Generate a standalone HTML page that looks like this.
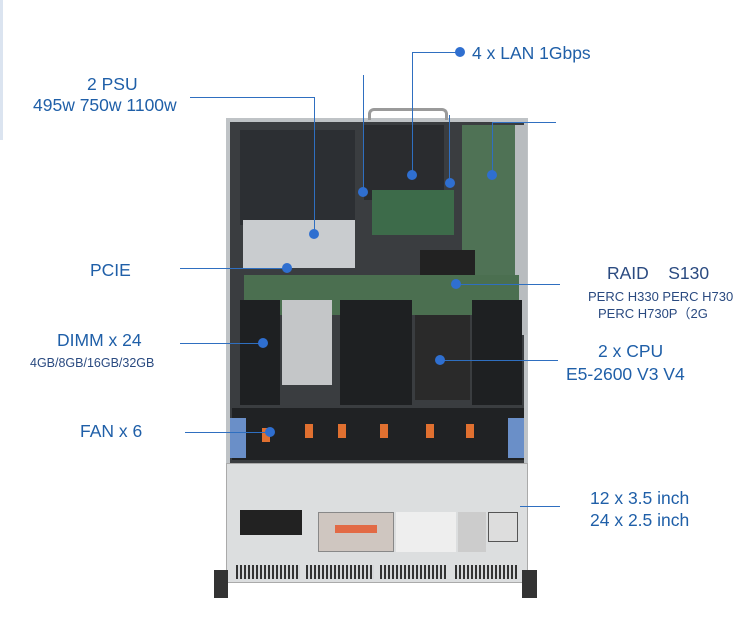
<!DOCTYPE html>
<html><head><meta charset="utf-8"><style>
*{margin:0;padding:0;box-sizing:border-box}
body{width:750px;height:622px;background:#fff;position:relative;overflow:hidden;font-family:"Liberation Sans","Noto Sans CJK SC",sans-serif}
.a{position:absolute}
.t{position:absolute;color:#1f5fa8;font-size:17.5px;white-space:nowrap;line-height:1}
.s{position:absolute;color:#2a4a80;font-size:13px;white-space:nowrap;line-height:1}
.l{position:absolute;background:#2f6fc0}
.d{position:absolute;width:10px;height:10px;border-radius:50%;background:#2f6fd0}
.v{position:absolute;top:565px;height:14px;background:repeating-linear-gradient(90deg,#333 0 2px,#d6d8da 2px 4px)}
</style></head><body>
<div class="a" style="left:0;top:0;width:3px;height:140px;background:#dbe4f0"></div>

<div class="a" style="left:226px;top:118px;width:302px;height:350px;background:#3a3d40;border:4px solid #bfc3c6"></div>
<div class="a" style="left:240px;top:130px;width:115px;height:95px;background:#2c2f33"></div>
<div class="a" style="left:243px;top:220px;width:112px;height:48px;background:#c9cccf"></div>
<div class="a" style="left:364px;top:125px;width:80px;height:75px;background:#2a2c2f"></div>
<div class="a" style="left:368px;top:108px;width:80px;height:12px;border:3px solid #9a9a9a;border-bottom:none;border-radius:6px 6px 0 0"></div>
<div class="a" style="left:372px;top:190px;width:82px;height:45px;background:#3d6b4a"></div>
<div class="a" style="left:462px;top:125px;width:55px;height:150px;background:#4f7255"></div>
<div class="a" style="left:515px;top:125px;width:12px;height:210px;background:#b8bcbf"></div>
<div class="a" style="left:420px;top:250px;width:55px;height:55px;background:#222"></div>
<div class="a" style="left:244px;top:275px;width:275px;height:40px;background:#4b6f50"></div>
<div class="a" style="left:240px;top:300px;width:40px;height:105px;background:#1e2022"></div>
<div class="a" style="left:282px;top:300px;width:50px;height:85px;background:#c4c6c8"></div>
<div class="a" style="left:340px;top:300px;width:72px;height:105px;background:#1e2022"></div>
<div class="a" style="left:415px;top:315px;width:55px;height:85px;background:#2a2a2a"></div>
<div class="a" style="left:472px;top:300px;width:50px;height:105px;background:#1e2022"></div>
<div class="a" style="left:232px;top:408px;width:292px;height:52px;background:#202224"></div>
<div class="a" style="left:230px;top:418px;width:16px;height:40px;background:#6a8fc8"></div>
<div class="a" style="left:508px;top:418px;width:16px;height:40px;background:#6a8fc8"></div>
<div class="a" style="left:262px;top:428px;width:8px;height:14px;background:#e07030"></div>
<div class="a" style="left:305px;top:424px;width:8px;height:14px;background:#e07030"></div>
<div class="a" style="left:338px;top:424px;width:8px;height:14px;background:#e07030"></div>
<div class="a" style="left:380px;top:424px;width:8px;height:14px;background:#e07030"></div>
<div class="a" style="left:426px;top:424px;width:8px;height:14px;background:#e07030"></div>
<div class="a" style="left:466px;top:424px;width:8px;height:14px;background:#e07030"></div>
<div class="a" style="left:226px;top:463px;width:302px;height:120px;background:#dcdedf;border:1px solid #aaa"></div>
<div class="a" style="left:240px;top:510px;width:62px;height:25px;background:#222"></div>
<div class="a" style="left:318px;top:512px;width:76px;height:40px;background:#cfc6c0;border:1px solid #888"></div>
<div class="a" style="left:335px;top:525px;width:42px;height:8px;background:#e26a45"></div>
<div class="a" style="left:396px;top:512px;width:60px;height:40px;background:#eee"></div>
<div class="a" style="left:458px;top:512px;width:28px;height:40px;background:#ccc"></div>
<div class="a" style="left:488px;top:512px;width:30px;height:30px;background:#ddd;border:1px solid #555"></div>
<div class="v" style="left:236px;width:64px"></div>
<div class="v" style="left:306px;width:68px"></div>
<div class="v" style="left:380px;width:66px"></div>
<div class="v" style="left:455px;width:62px"></div>
<div class="a" style="left:214px;top:570px;width:14px;height:28px;background:#333"></div>
<div class="a" style="left:522px;top:570px;width:15px;height:28px;background:#333"></div>

<div class="l" style="left:190px;top:97px;width:125px;height:1px"></div>
<div class="l" style="left:314px;top:97px;width:1px;height:137px"></div><div class="d" style="left:309px;top:229px"></div>
<div class="l" style="left:363px;top:75px;width:1px;height:118px"></div><div class="d" style="left:358px;top:187px"></div>
<div class="l" style="left:412px;top:52px;width:48px;height:1px"></div><div class="d" style="left:455px;top:47px"></div>
<div class="l" style="left:412px;top:52px;width:1px;height:124px"></div><div class="d" style="left:407px;top:170px"></div>
<div class="l" style="left:449px;top:115px;width:1px;height:68px"></div><div class="d" style="left:445px;top:178px"></div>
<div class="l" style="left:492px;top:122px;width:64px;height:1px"></div>
<div class="l" style="left:492px;top:122px;width:1px;height:53px"></div><div class="d" style="left:487px;top:170px"></div>
<div class="l" style="left:180px;top:268px;width:107px;height:1px"></div><div class="d" style="left:282px;top:263px"></div>
<div class="l" style="left:456px;top:284px;width:104px;height:1px"></div><div class="d" style="left:451px;top:279px"></div>
<div class="l" style="left:180px;top:343px;width:83px;height:1px"></div><div class="d" style="left:258px;top:338px"></div>
<div class="l" style="left:440px;top:360px;width:118px;height:1px"></div><div class="d" style="left:435px;top:355px"></div>
<div class="l" style="left:185px;top:432px;width:85px;height:1px"></div><div class="d" style="left:265px;top:427px"></div>
<div class="l" style="left:520px;top:506px;width:40px;height:1px"></div>

<div class="t" style="left:87px;top:76px">2 PSU</div>
<div class="t" style="left:33px;top:97px">495w 750w 1100w</div>
<div class="t" style="left:472px;top:45px">4 x LAN 1Gbps</div>
<div class="t" style="left:90px;top:262px">PCIE</div>
<div class="t" style="left:607px;top:265px;color:#2a4a80">RAID&nbsp;&nbsp;&nbsp;&nbsp;S130</div>
<div class="s" style="left:588px;top:290px">PERC H330 PERC H730</div>
<div class="s" style="left:598px;top:307px">PERC H730P（2G</div>
<div class="t" style="left:57px;top:332px">DIMM x 24</div>
<div class="s" style="left:30px;top:357px;font-size:12.5px">4GB/8GB/16GB/32GB</div>
<div class="t" style="left:598px;top:343px">2 x CPU</div>
<div class="t" style="left:566px;top:366px">E5-2600 V3 V4</div>
<div class="t" style="left:80px;top:423px">FAN x 6</div>
<div class="t" style="left:590px;top:490px">12 x 3.5 inch</div>
<div class="t" style="left:590px;top:512px">24 x 2.5 inch</div>
</body></html>
